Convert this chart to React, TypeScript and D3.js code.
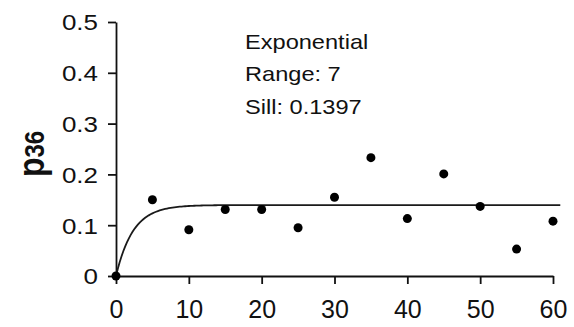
import React, { useRef, useEffect } from 'react';
import * as d3 from 'd3';

// Empirical semivariogram points (lag distance, p36)
const lags = [0, 5, 10, 15, 20, 25, 30, 35, 40, 45, 50, 55, 60];
const gammaValues = [0, 0.15, 0.091, 0.131, 0.131, 0.095, 0.155, 0.233, 0.113, 0.201, 0.137, 0.053, 0.108];

// Fitted model parameters
const MODEL_NAME = 'Exponential';
const MODEL_RANGE = 7;
const MODEL_SILL = 0.1397;
const MODEL_MAX_LAG = 61;

const xTicks = [0, 10, 20, 30, 40, 50, 60];
const xTickLabels = ['0', '10', '20', '30', '40', '50', '60'];
const yTicks = [0, 0.1, 0.2, 0.3, 0.4, 0.5];
const yTickLabels = ['0', '0.1', '0.2', '0.3', '0.4', '0.5'];

const WIDTH = 574;
const HEIGHT = 327;
const STRETCH = 1.18; // source figure is stretched horizontally
const FONT = "'Liberation Sans', Arial, sans-serif";
const INK = '#111';

export default function App() {
  const svgRef = useRef<SVGSVGElement>(null);

  useEffect(() => {
    const svg = d3.select(svgRef.current);
    svg.selectAll('*').remove();

    const x = d3.scaleLinear().domain([0, 60]).range([116, 553]);
    const y = d3.scaleLinear().domain([0, 0.5]).range([276, 22]);

    // Y axis
    const yAxis = d3.axisLeft(y)
      .tickValues(yTicks)
      .tickFormat((d, i) => yTickLabels[i])
      .tickSize(8)
      .tickSizeOuter(0);

    const gy = svg.append('g')
      .attr('transform', `translate(${x(0)},0)`)
      .call(yAxis);
    gy.select('.domain').attr('stroke', INK).attr('stroke-width', 1.8);
    gy.selectAll('.tick line').attr('stroke', INK).attr('stroke-width', 1.8);
    gy.selectAll('.tick text')
      .attr('x', -18 / STRETCH)
      .attr('dy', '0.36em')
      .attr('transform', `scale(${STRETCH},1)`)
      .style('font-family', FONT)
      .style('font-size', '22px')
      .style('fill', INK);

    // X axis
    const xAxis = d3.axisBottom(x)
      .tickValues(xTicks)
      .tickFormat((d, i) => xTickLabels[i])
      .tickSize(8)
      .tickPadding(16)
      .tickSizeOuter(0);

    const gx = svg.append('g')
      .attr('transform', `translate(0,${y(0)})`)
      .call(xAxis);
    gx.select('.domain').attr('stroke', INK).attr('stroke-width', 1.8);
    gx.selectAll('.tick line').attr('stroke', INK).attr('stroke-width', 1.8);
    gx.selectAll('.tick text')
      .style('font-family', FONT)
      .style('font-size', '25px')
      .style('fill', INK);

    // Fitted exponential model curve
    const modelLags = d3.range(0, MODEL_MAX_LAG + 0.001, 0.25);
    const line = d3.line<number>()
      .x(h => x(h))
      .y(h => y(MODEL_SILL * (1 - Math.exp(-3 * h / MODEL_RANGE))));

    svg.append('path')
      .datum(modelLags)
      .attr('d', line)
      .attr('fill', 'none')
      .attr('stroke', '#1a1a1a')
      .attr('stroke-width', 1.8);

    // Points
    svg.selectAll('.pt')
      .data(lags)
      .enter()
      .append('circle')
      .attr('class', 'pt')
      .attr('cx', d => x(d))
      .attr('cy', (d, i) => y(gammaValues[i]))
      .attr('r', 4.5)
      .attr('fill', '#000');

    // Y axis title
    const title = svg.append('text')
      .attr('transform', `translate(44,154) scale(${STRETCH},1) rotate(-90)`)
      .attr('text-anchor', 'middle')
      .style('font-family', FONT)
      .style('font-weight', 'bold')
      .style('fill', INK);
    title.append('tspan').style('font-size', '32px').text('p');
    title.append('tspan').style('font-size', '24px').text('36');

    // Model annotation
    const note = svg.append('g')
      .attr('transform', `translate(245,0) scale(${STRETCH},1)`)
      .style('font-family', FONT)
      .style('font-size', '20px')
      .style('fill', INK);
    const lines = [MODEL_NAME, `Range: ${MODEL_RANGE}`, `Sill: ${MODEL_SILL}`];
    note.selectAll('text')
      .data(lines)
      .enter()
      .append('text')
      .attr('x', 0)
      .attr('y', (d, i) => 49 + i * 32.5)
      .text(d => d);
  }, []);

  return (
    <svg
      ref={svgRef}
      width={WIDTH}
      height={HEIGHT}
      style={{ position: 'absolute', left: 0, top: 0, background: '#fff' }}
    />
  );
}
